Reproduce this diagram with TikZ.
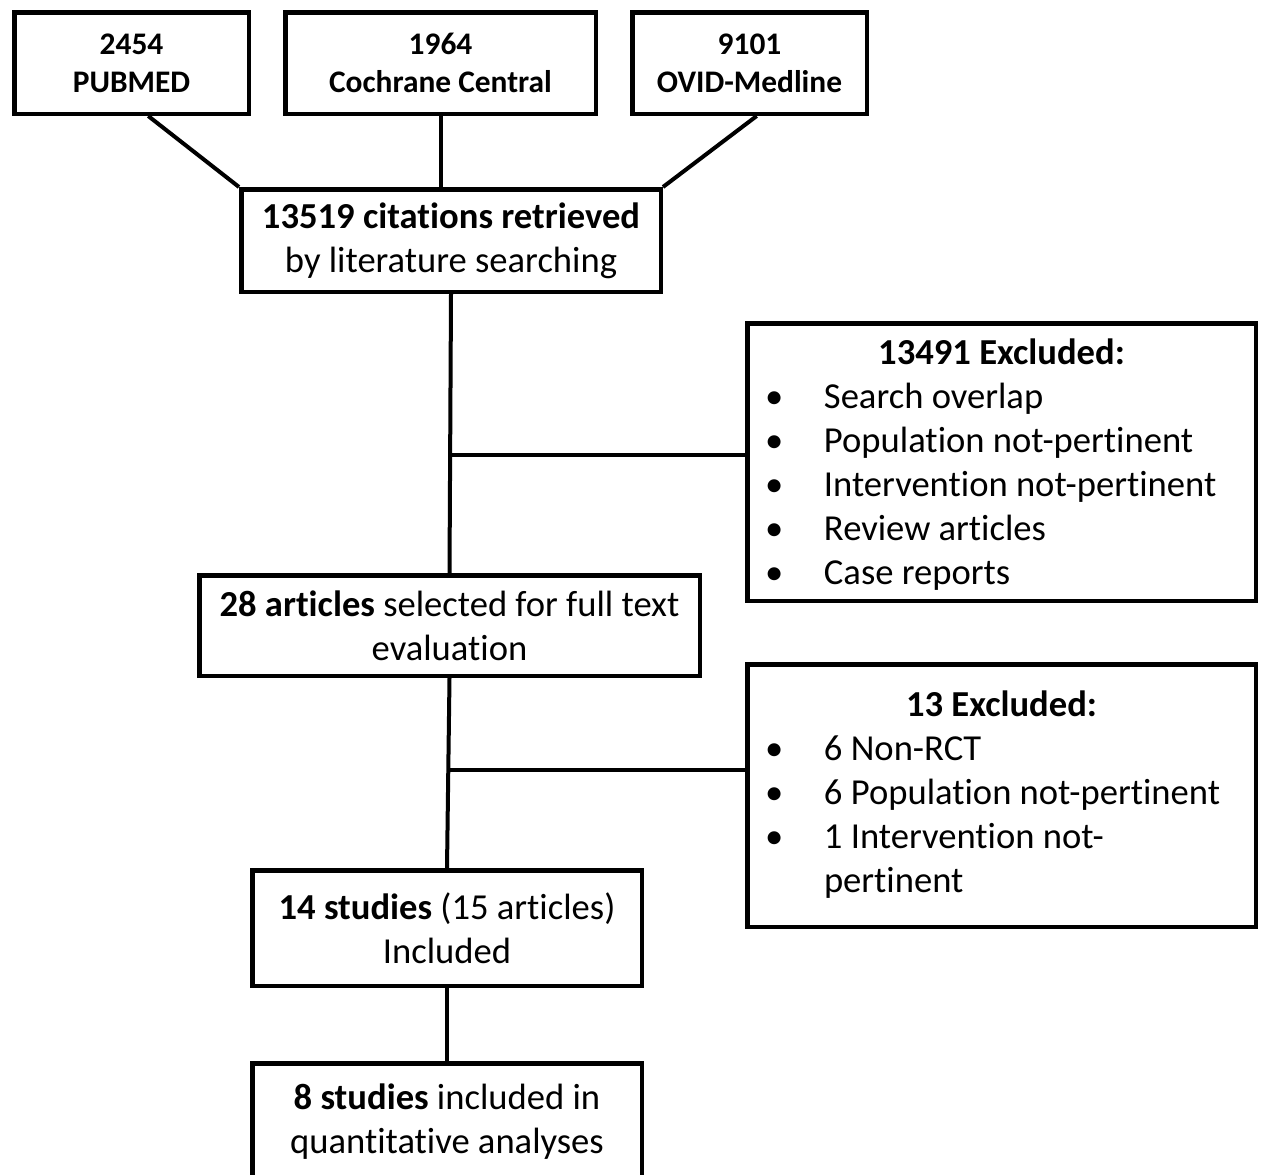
\documentclass[tikz,border=0pt]{standalone}
\usepackage{fontspec}
\setmainfont[Ligatures=NoCommon]{Carlito}
\usetikzlibrary{calc}
\begin{document}
\begin{tikzpicture}[x=1pt,y=-1pt,
  box/.style={draw, line width=4.5pt, inner sep=0pt, align=center, font=\fontsize{36.6}{44}\selectfont},
  srcbox/.style={box, font=\fontsize{31.4}{38}\selectfont\bfseries, minimum width=234.5pt, minimum height=101.5pt},
  link/.style={line width=4pt}]
\path[use as bounding box] (0,0) rectangle (1264,1175);
\clip (0,0) rectangle (1264,1175);

\node[srcbox] (pub) at (131.5,63) {2454\\PUBMED};
\node[srcbox, minimum width=310.5pt] (coch) at (440.5,63) {1964\\Cochrane Central};
\node[srcbox] (ovid) at (749.5,63) {9101\\OVID-Medline};

\node[box, minimum width=419.5pt, minimum height=102.5pt] (retr) at (451,240.5)
  {\textbf{13519 citations retrieved}\\by literature searching};

\node[box, minimum width=508.5pt, minimum height=277.5pt] (excl1) at (1001.5,462)
  {\raisebox{-4pt}[\height][\depth]{\begin{tabular}{@{}p{59pt}@{}p{414pt}@{}}
   \multicolumn{2}{@{}c@{}}{\textbf{13491 Excluded:}}\\
   \textbullet & Search overlap\\
   \textbullet & Population not-pertinent\\
   \textbullet & Intervention not-pertinent\\
   \textbullet & Review articles\\
   \textbullet & Case reports
   \end{tabular}}};

\node[box, minimum width=500.5pt, minimum height=100.5pt] (arts) at (449.5,625.5)
  {\textbf{28 articles} selected for full text\\evaluation};

\node[box, minimum width=508.5pt, minimum height=262.5pt] (excl2) at (1001.5,795.5)
  {\begin{tabular}{@{}p{59pt}@{}p{414pt}@{}}
   \multicolumn{2}{@{}c@{}}{\textbf{13 Excluded:}}\\
   \textbullet & 6 Non-RCT\\
   \textbullet & 6 Population not-pertinent\\
   \textbullet & 1 Intervention not-\\
   & pertinent
   \end{tabular}};

\node[box, minimum width=389.5pt, minimum height=115.5pt] (stud) at (447,928)
  {\textbf{14 studies} (15 articles)\\Included};

\node[box, minimum width=389.5pt, minimum height=116.5pt] (fin) at (447,1121.5)
  {\textbf{8 studies} included in\\quantitative analyses};

\draw[link] ($(pub.south west)!0.57!(pub.south east)$) -- (retr.north west);
\draw[link] (coch.south) -- (coch.south |- retr.north);
\draw[link] ($(ovid.south west)!0.53!(ovid.south east)$) -- (retr.north east);
\draw[link] (retr.south) -- (arts.north);
\coordinate (j1) at (450.5,455);
\draw[link] (j1) -- (j1 -| excl1.west);
\draw[link] (arts.south) -- (stud.north);
\coordinate (j2) at (448.5,770);
\draw[link] (j2) -- (j2 -| excl2.west);
\draw[link] (stud.south) -- (fin.north);
\end{tikzpicture}
\end{document}
